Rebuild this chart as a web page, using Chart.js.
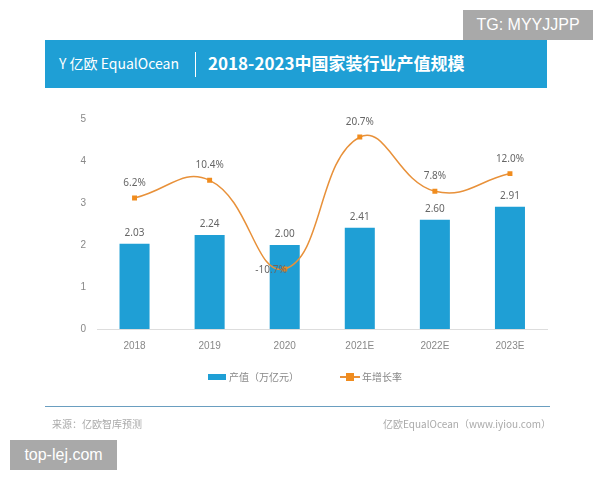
<!DOCTYPE html>
<html><head><meta charset="utf-8">
<script src="https://cdn.jsdelivr.net/npm/chart.js@4"></script>
<style>
body{margin:0;width:600px;height:480px;background:#fff;position:relative;font-family:"Noto Sans CJK SC","Noto Sans",sans-serif;overflow:hidden}
#c{position:absolute;left:0;top:0}
.hdr{position:absolute;left:45px;top:40px;width:502px;height:48px;background:#1f9fd5;color:#fff}
.logo{position:absolute;left:14px;top:13px;font-size:14px;letter-spacing:0}
.sep{position:absolute;left:150px;top:12px;width:1px;height:25px;background:#fff}
.ttl{position:absolute;left:163px;top:10px;font-size:17px;font-weight:bold}
.tg{position:absolute;left:463px;top:10px;width:130px;height:30px;background:#a9a9a9;color:#fff;font-family:"Liberation Sans",sans-serif;font-size:16px;line-height:30px;text-align:center}
.tl{position:absolute;left:10px;top:440px;width:107px;height:30px;background:#a9a9a9;color:#fff;font-family:"Liberation Sans",sans-serif;font-size:16px;line-height:30px;text-align:center}
.fl{position:absolute;left:45px;top:406px;width:505px;height:1px;background:#6a9ec0}
.src{position:absolute;top:416px;font-size:10px;color:#aaa}
.leg{position:absolute;top:369px;font-size:10px;color:#888;display:flex;align-items:center}
</style></head><body>
<canvas id="c" width="600" height="480"></canvas>
<div class="hdr"><div class="logo">Y 亿欧 EqualOcean</div><div class="sep"></div><div class="ttl">2018-2023中国家装行业产值规模</div></div>
<div class="tg">TG: MYYJJPP</div>
<div class="leg" style="left:208px"><span style="display:inline-block;width:18px;height:6px;background:#1f9fd5;margin-right:3px"></span>产值（万亿元）</div>
<div class="leg" style="left:340px"><span style="display:inline-block;width:20px;height:8px;position:relative;margin-right:2px"><span style="position:absolute;left:0;top:3px;width:20px;height:2px;background:#e8913a"></span><span style="position:absolute;left:6px;top:0;width:8px;height:8px;background:#f08c1e"></span></span>年增长率</div>
<div class="fl"></div>
<div class="src" style="left:52px">来源：亿欧智库预测</div>
<div class="src" style="left:383px">亿欧EqualOcean（www.iyiou.com）</div>
<div class="tl">top-lej.com</div>
<script>
const categories=['2018','2019','2020','2021E','2022E','2023E'];
const outputValues=[2.03,2.24,2.00,2.41,2.60,2.91];
const growthRates=[6.2,10.4,-10.7,20.7,7.8,12.0];
const labelPlugin={id:'lbl',afterDatasetsDraw(ch){
 const ctx=ch.ctx;ctx.save();ctx.font='10px "Noto Sans", sans-serif';ctx.fillStyle='#666';ctx.textAlign='center';
 ch.getDatasetMeta(0).data.forEach((b,i)=>ctx.fillText(outputValues[i].toFixed(2),b.x,b.y-8));
 ch.getDatasetMeta(1).data.forEach((p,i)=>{const t=growthRates[i].toFixed(1)+'%';
  if(growthRates[i]<0){ctx.textAlign='right';ctx.fillText(t,p.x+2,p.y+4);ctx.textAlign='center';}
  else ctx.fillText(t,p.x,p.y-12);});
 ctx.restore();}};
new Chart(document.getElementById('c'),{
 data:{labels:categories,datasets:[
  {type:'bar',data:outputValues,backgroundColor:'#1f9fd5',barPercentage:0.4,categoryPercentage:1,yAxisID:'y',order:2},
  {type:'line',data:growthRates,borderColor:'#e8913a',borderWidth:1.5,backgroundColor:'#f08c1e',pointStyle:'rect',pointRadius:3.5,pointBorderWidth:0,tension:0.45,yAxisID:'y2',order:1}]},
 options:{responsive:false,animation:false,
  layout:{padding:{left:67,right:52.5,top:119,bottom:131}},
  plugins:{legend:{display:false},tooltip:{enabled:false}},
  scales:{
   x:{grid:{display:false},border:{color:'#ddd'},ticks:{color:'#888',font:{size:10}},afterFit(s){s.height=20}},
   y:{min:0,max:5,ticks:{stepSize:1,color:'#888',font:{size:10}},grid:{display:false},border:{display:false},afterFit(s){s.width=30}},
   y2:{display:false,min:-25,max:25}}},
 plugins:[labelPlugin]});
</script></body></html>
